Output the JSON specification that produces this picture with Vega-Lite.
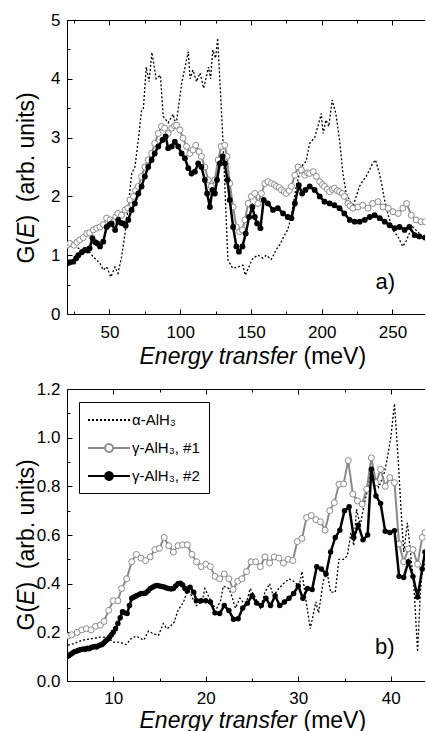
{
"$schema": "https://vega.github.io/schema/vega-lite/v6.json",
"padding": {"left": 15, "top": 11, "right": 0, "bottom": 0},
"spacing": 12,
"resolve": {"scale": {"color": "independent"}, "legend": {"color": "independent"}},
"config": {
  "view": {"stroke": null},
  "font": "Liberation Sans",
  "axis": {"grid": false, "domainColor": "black", "tickColor": "black", "labelColor": "black", "titleColor": "black", "labelFont": "Liberation Sans", "titleFont": "Liberation Sans", "labelFontSize": 17, "titleFontSize": 23, "titleFontWeight": "normal", "tickWidth": 1, "domainWidth": 1, "labelFlush": false, "labelOverlap": false}
},
"datasets": {
"top": [
{"E":20,"G":1.22,"s":"α-AlH₃"},{"E":24,"G":1.18,"s":"α-AlH₃"},{"E":28,"G":1.12,"s":"α-AlH₃"},{"E":32,"G":1.08,"s":"α-AlH₃"},{"E":36,"G":1.05,"s":"α-AlH₃"},{"E":38.6,"G":0.97,"s":"α-AlH₃"},{"E":41,"G":0.92,"s":"α-AlH₃"},{"E":43.3,"G":0.86,"s":"α-AlH₃"},{"E":45.6,"G":0.75,"s":"α-AlH₃"},{"E":48,"G":0.8,"s":"α-AlH₃"},{"E":51,"G":0.63,"s":"α-AlH₃"},{"E":53.9,"G":0.8,"s":"α-AlH₃"},{"E":56,"G":0.69,"s":"α-AlH₃"},{"E":58.6,"G":0.97,"s":"α-AlH₃"},{"E":61,"G":1.37,"s":"α-AlH₃"},{"E":63.3,"G":1.82,"s":"α-AlH₃"},{"E":65.7,"G":2.39,"s":"α-AlH₃"},{"E":68,"G":2.5,"s":"α-AlH₃"},{"E":70.4,"G":2.96,"s":"α-AlH₃"},{"E":72.7,"G":3.47,"s":"α-AlH₃"},{"E":74,"G":3.5,"s":"α-AlH₃"},{"E":76,"G":4.2,"s":"α-AlH₃"},{"E":78,"G":3.95,"s":"α-AlH₃"},{"E":80,"G":4.45,"s":"α-AlH₃"},{"E":83,"G":4.0,"s":"α-AlH₃"},{"E":86,"G":4.06,"s":"α-AlH₃"},{"E":88,"G":3.36,"s":"α-AlH₃"},{"E":91.5,"G":3.25,"s":"α-AlH₃"},{"E":95,"G":3.4,"s":"α-AlH₃"},{"E":97,"G":3.2,"s":"α-AlH₃"},{"E":101,"G":3.92,"s":"α-AlH₃"},{"E":105.7,"G":4.46,"s":"α-AlH₃"},{"E":107,"G":4.0,"s":"α-AlH₃"},{"E":109,"G":4.15,"s":"α-AlH₃"},{"E":111.5,"G":3.95,"s":"α-AlH₃"},{"E":114,"G":4.1,"s":"α-AlH₃"},{"E":116.6,"G":3.84,"s":"α-AlH₃"},{"E":120,"G":4.2,"s":"α-AlH₃"},{"E":121.5,"G":4.0,"s":"α-AlH₃"},{"E":123,"G":4.49,"s":"α-AlH₃"},{"E":125,"G":4.35,"s":"α-AlH₃"},{"E":126.5,"G":4.69,"s":"α-AlH₃"},{"E":130.2,"G":2.96,"s":"α-AlH₃"},{"E":133.7,"G":0.92,"s":"α-AlH₃"},{"E":137,"G":0.78,"s":"α-AlH₃"},{"E":140.8,"G":0.8,"s":"α-AlH₃"},{"E":144.3,"G":0.83,"s":"α-AlH₃"},{"E":146,"G":0.66,"s":"α-AlH₃"},{"E":149,"G":0.83,"s":"α-AlH₃"},{"E":151.4,"G":0.95,"s":"α-AlH₃"},{"E":155,"G":1.0,"s":"α-AlH₃"},{"E":158.4,"G":0.95,"s":"α-AlH₃"},{"E":160.8,"G":1.0,"s":"α-AlH₃"},{"E":164.4,"G":0.93,"s":"α-AlH₃"},{"E":168,"G":1.1,"s":"α-AlH₃"},{"E":170.2,"G":1.17,"s":"α-AlH₃"},{"E":173.7,"G":1.34,"s":"α-AlH₃"},{"E":176,"G":1.43,"s":"α-AlH₃"},{"E":178.4,"G":1.65,"s":"α-AlH₃"},{"E":182,"G":2.17,"s":"α-AlH₃"},{"E":185.5,"G":2.5,"s":"α-AlH₃"},{"E":189,"G":2.6,"s":"α-AlH₃"},{"E":191.4,"G":2.9,"s":"α-AlH₃"},{"E":195,"G":3.0,"s":"α-AlH₃"},{"E":197.3,"G":3.19,"s":"α-AlH₃"},{"E":199.7,"G":3.41,"s":"α-AlH₃"},{"E":201,"G":3.07,"s":"α-AlH₃"},{"E":203,"G":3.3,"s":"α-AlH₃"},{"E":205,"G":3.19,"s":"α-AlH₃"},{"E":207.4,"G":3.64,"s":"α-AlH₃"},{"E":210,"G":3.41,"s":"α-AlH₃"},{"E":212.6,"G":2.96,"s":"α-AlH₃"},{"E":215,"G":2.39,"s":"α-AlH₃"},{"E":217.3,"G":2.05,"s":"α-AlH₃"},{"E":219.7,"G":1.94,"s":"α-AlH₃"},{"E":222,"G":1.82,"s":"α-AlH₃"},{"E":224.4,"G":2.0,"s":"α-AlH₃"},{"E":226.7,"G":2.17,"s":"α-AlH₃"},{"E":229,"G":2.26,"s":"α-AlH₃"},{"E":231.4,"G":2.34,"s":"α-AlH₃"},{"E":233.7,"G":2.45,"s":"α-AlH₃"},{"E":236,"G":2.56,"s":"α-AlH₃"},{"E":238,"G":2.62,"s":"α-AlH₃"},{"E":240.8,"G":2.39,"s":"α-AlH₃"},{"E":242.7,"G":2.17,"s":"α-AlH₃"},{"E":244.4,"G":1.94,"s":"α-AlH₃"},{"E":246.7,"G":1.71,"s":"α-AlH₃"},{"E":250.2,"G":1.43,"s":"α-AlH₃"},{"E":253.8,"G":1.32,"s":"α-AlH₃"},{"E":257.3,"G":1.15,"s":"α-AlH₃"},{"E":259.7,"G":1.24,"s":"α-AlH₃"},{"E":262,"G":1.37,"s":"α-AlH₃"},{"E":264.4,"G":1.48,"s":"α-AlH₃"},{"E":269,"G":1.37,"s":"α-AlH₃"},{"E":273,"G":1.26,"s":"α-AlH₃"},
{"E":20,"G":1.17,"s":"γ-AlH₃, #1"},{"E":22,"G":1.2,"s":"γ-AlH₃, #1"},{"E":25,"G":1.17,"s":"γ-AlH₃, #1"},{"E":27,"G":1.22,"s":"γ-AlH₃, #1"},{"E":29,"G":1.26,"s":"γ-AlH₃, #1"},{"E":31.5,"G":1.3,"s":"γ-AlH₃, #1"},{"E":34,"G":1.37,"s":"γ-AlH₃, #1"},{"E":36,"G":1.38,"s":"γ-AlH₃, #1"},{"E":38.6,"G":1.43,"s":"γ-AlH₃, #1"},{"E":41,"G":1.46,"s":"γ-AlH₃, #1"},{"E":43.3,"G":1.48,"s":"γ-AlH₃, #1"},{"E":45.6,"G":1.52,"s":"γ-AlH₃, #1"},{"E":48,"G":1.63,"s":"γ-AlH₃, #1"},{"E":50.5,"G":1.6,"s":"γ-AlH₃, #1"},{"E":52.7,"G":1.57,"s":"γ-AlH₃, #1"},{"E":54.5,"G":1.65,"s":"γ-AlH₃, #1"},{"E":56,"G":1.71,"s":"γ-AlH₃, #1"},{"E":58.5,"G":1.68,"s":"γ-AlH₃, #1"},{"E":61,"G":1.77,"s":"γ-AlH₃, #1"},{"E":63,"G":1.8,"s":"γ-AlH₃, #1"},{"E":64.5,"G":1.94,"s":"γ-AlH₃, #1"},{"E":67,"G":2.0,"s":"γ-AlH₃, #1"},{"E":68.5,"G":2.1,"s":"γ-AlH₃, #1"},{"E":70.4,"G":2.17,"s":"γ-AlH₃, #1"},{"E":72.7,"G":2.34,"s":"γ-AlH₃, #1"},{"E":75,"G":2.5,"s":"γ-AlH₃, #1"},{"E":77.4,"G":2.62,"s":"γ-AlH₃, #1"},{"E":79.8,"G":2.73,"s":"γ-AlH₃, #1"},{"E":82,"G":2.9,"s":"γ-AlH₃, #1"},{"E":84.5,"G":3.07,"s":"γ-AlH₃, #1"},{"E":86.8,"G":3.19,"s":"γ-AlH₃, #1"},{"E":89,"G":3.16,"s":"γ-AlH₃, #1"},{"E":91.5,"G":3.07,"s":"γ-AlH₃, #1"},{"E":94,"G":3.16,"s":"γ-AlH₃, #1"},{"E":96,"G":3.2,"s":"γ-AlH₃, #1"},{"E":97.4,"G":3.21,"s":"γ-AlH₃, #1"},{"E":99.8,"G":3.13,"s":"γ-AlH₃, #1"},{"E":102,"G":2.99,"s":"γ-AlH₃, #1"},{"E":104.5,"G":2.85,"s":"γ-AlH₃, #1"},{"E":106.8,"G":2.73,"s":"γ-AlH₃, #1"},{"E":109,"G":2.79,"s":"γ-AlH₃, #1"},{"E":111,"G":2.87,"s":"γ-AlH₃, #1"},{"E":113.4,"G":2.76,"s":"γ-AlH₃, #1"},{"E":115,"G":2.68,"s":"γ-AlH₃, #1"},{"E":117.4,"G":2.5,"s":"γ-AlH₃, #1"},{"E":119.8,"G":2.28,"s":"γ-AlH₃, #1"},{"E":122,"G":2.17,"s":"γ-AlH₃, #1"},{"E":124.5,"G":2.28,"s":"γ-AlH₃, #1"},{"E":126.8,"G":2.62,"s":"γ-AlH₃, #1"},{"E":129,"G":2.85,"s":"γ-AlH₃, #1"},{"E":131.5,"G":2.87,"s":"γ-AlH₃, #1"},{"E":133,"G":2.68,"s":"γ-AlH₃, #1"},{"E":135,"G":2.22,"s":"γ-AlH₃, #1"},{"E":137.4,"G":1.82,"s":"γ-AlH₃, #1"},{"E":139.7,"G":1.48,"s":"γ-AlH₃, #1"},{"E":142,"G":1.4,"s":"γ-AlH₃, #1"},{"E":144,"G":1.43,"s":"γ-AlH₃, #1"},{"E":145.7,"G":1.6,"s":"γ-AlH₃, #1"},{"E":148,"G":1.88,"s":"γ-AlH₃, #1"},{"E":150.3,"G":2.0,"s":"γ-AlH₃, #1"},{"E":152.7,"G":2.05,"s":"γ-AlH₃, #1"},{"E":155,"G":1.88,"s":"γ-AlH₃, #1"},{"E":157.4,"G":2.05,"s":"γ-AlH₃, #1"},{"E":159.8,"G":2.22,"s":"γ-AlH₃, #1"},{"E":162,"G":2.25,"s":"γ-AlH₃, #1"},{"E":164.5,"G":2.22,"s":"γ-AlH₃, #1"},{"E":166.5,"G":2.2,"s":"γ-AlH₃, #1"},{"E":168,"G":2.17,"s":"γ-AlH₃, #1"},{"E":170,"G":2.15,"s":"γ-AlH₃, #1"},{"E":171.5,"G":2.11,"s":"γ-AlH₃, #1"},{"E":173.5,"G":2.08,"s":"γ-AlH₃, #1"},{"E":175,"G":2.05,"s":"γ-AlH₃, #1"},{"E":177,"G":2.1,"s":"γ-AlH₃, #1"},{"E":178.6,"G":2.17,"s":"γ-AlH₃, #1"},{"E":181,"G":2.36,"s":"γ-AlH₃, #1"},{"E":183.3,"G":2.5,"s":"γ-AlH₃, #1"},{"E":185.6,"G":2.45,"s":"γ-AlH₃, #1"},{"E":188,"G":2.36,"s":"γ-AlH₃, #1"},{"E":190,"G":2.4,"s":"γ-AlH₃, #1"},{"E":191.5,"G":2.39,"s":"γ-AlH₃, #1"},{"E":194,"G":2.42,"s":"γ-AlH₃, #1"},{"E":196.2,"G":2.34,"s":"γ-AlH₃, #1"},{"E":198.6,"G":2.25,"s":"γ-AlH₃, #1"},{"E":200.5,"G":2.2,"s":"γ-AlH₃, #1"},{"E":202,"G":2.17,"s":"γ-AlH₃, #1"},{"E":204,"G":2.12,"s":"γ-AlH₃, #1"},{"E":205.6,"G":2.08,"s":"γ-AlH₃, #1"},{"E":207.5,"G":2.12,"s":"γ-AlH₃, #1"},{"E":209,"G":2.14,"s":"γ-AlH₃, #1"},{"E":211,"G":2.1,"s":"γ-AlH₃, #1"},{"E":212.6,"G":2.08,"s":"γ-AlH₃, #1"},{"E":214.5,"G":2.05,"s":"γ-AlH₃, #1"},{"E":216,"G":2.0,"s":"γ-AlH₃, #1"},{"E":218.5,"G":1.88,"s":"γ-AlH₃, #1"},{"E":220,"G":1.84,"s":"γ-AlH₃, #1"},{"E":222,"G":1.8,"s":"γ-AlH₃, #1"},{"E":225.6,"G":1.82,"s":"γ-AlH₃, #1"},{"E":229,"G":1.85,"s":"γ-AlH₃, #1"},{"E":232.7,"G":1.8,"s":"γ-AlH₃, #1"},{"E":236,"G":1.88,"s":"γ-AlH₃, #1"},{"E":239.8,"G":1.91,"s":"γ-AlH₃, #1"},{"E":243.3,"G":1.82,"s":"γ-AlH₃, #1"},{"E":247,"G":1.8,"s":"γ-AlH₃, #1"},{"E":250.4,"G":1.74,"s":"γ-AlH₃, #1"},{"E":254,"G":1.71,"s":"γ-AlH₃, #1"},{"E":257.4,"G":1.8,"s":"γ-AlH₃, #1"},{"E":260,"G":1.88,"s":"γ-AlH₃, #1"},{"E":263.3,"G":1.68,"s":"γ-AlH₃, #1"},{"E":266.8,"G":1.6,"s":"γ-AlH₃, #1"},{"E":270.3,"G":1.57,"s":"γ-AlH₃, #1"},{"E":273,"G":1.57,"s":"γ-AlH₃, #1"},
{"E":20,"G":0.86,"s":"γ-AlH₃, #2"},{"E":22,"G":0.88,"s":"γ-AlH₃, #2"},{"E":24.5,"G":0.89,"s":"γ-AlH₃, #2"},{"E":26.5,"G":0.95,"s":"γ-AlH₃, #2"},{"E":28,"G":1.0,"s":"γ-AlH₃, #2"},{"E":30.5,"G":1.05,"s":"γ-AlH₃, #2"},{"E":32.7,"G":1.09,"s":"γ-AlH₃, #2"},{"E":34.5,"G":1.08,"s":"γ-AlH₃, #2"},{"E":36,"G":1.12,"s":"γ-AlH₃, #2"},{"E":38,"G":1.29,"s":"γ-AlH₃, #2"},{"E":40,"G":1.22,"s":"γ-AlH₃, #2"},{"E":41.5,"G":1.2,"s":"γ-AlH₃, #2"},{"E":43.3,"G":1.15,"s":"γ-AlH₃, #2"},{"E":45.6,"G":1.23,"s":"γ-AlH₃, #2"},{"E":48,"G":1.48,"s":"γ-AlH₃, #2"},{"E":50,"G":1.52,"s":"γ-AlH₃, #2"},{"E":51.5,"G":1.54,"s":"γ-AlH₃, #2"},{"E":54,"G":1.43,"s":"γ-AlH₃, #2"},{"E":56.2,"G":1.6,"s":"γ-AlH₃, #2"},{"E":58,"G":1.55,"s":"γ-AlH₃, #2"},{"E":59.8,"G":1.54,"s":"γ-AlH₃, #2"},{"E":61.5,"G":1.5,"s":"γ-AlH₃, #2"},{"E":63.3,"G":1.6,"s":"γ-AlH₃, #2"},{"E":65.6,"G":1.77,"s":"γ-AlH₃, #2"},{"E":68,"G":1.88,"s":"γ-AlH₃, #2"},{"E":70.4,"G":2.05,"s":"γ-AlH₃, #2"},{"E":72.7,"G":2.17,"s":"γ-AlH₃, #2"},{"E":75,"G":2.34,"s":"γ-AlH₃, #2"},{"E":77.4,"G":2.5,"s":"γ-AlH₃, #2"},{"E":79.8,"G":2.62,"s":"γ-AlH₃, #2"},{"E":82,"G":2.73,"s":"γ-AlH₃, #2"},{"E":84.5,"G":2.85,"s":"γ-AlH₃, #2"},{"E":87.5,"G":2.96,"s":"γ-AlH₃, #2"},{"E":89.7,"G":3.02,"s":"γ-AlH₃, #2"},{"E":91.5,"G":2.82,"s":"γ-AlH₃, #2"},{"E":94,"G":2.85,"s":"γ-AlH₃, #2"},{"E":96.2,"G":2.93,"s":"γ-AlH₃, #2"},{"E":98.6,"G":2.85,"s":"γ-AlH₃, #2"},{"E":101,"G":2.73,"s":"γ-AlH₃, #2"},{"E":103.3,"G":2.65,"s":"γ-AlH₃, #2"},{"E":105.7,"G":2.48,"s":"γ-AlH₃, #2"},{"E":108,"G":2.39,"s":"γ-AlH₃, #2"},{"E":110.4,"G":2.42,"s":"γ-AlH₃, #2"},{"E":112.7,"G":2.56,"s":"γ-AlH₃, #2"},{"E":115,"G":2.5,"s":"γ-AlH₃, #2"},{"E":117.4,"G":2.28,"s":"γ-AlH₃, #2"},{"E":119,"G":2.05,"s":"γ-AlH₃, #2"},{"E":121,"G":1.82,"s":"γ-AlH₃, #2"},{"E":122.8,"G":2.11,"s":"γ-AlH₃, #2"},{"E":124.5,"G":2.05,"s":"γ-AlH₃, #2"},{"E":126,"G":2.28,"s":"γ-AlH₃, #2"},{"E":128,"G":2.56,"s":"γ-AlH₃, #2"},{"E":130,"G":2.68,"s":"γ-AlH₃, #2"},{"E":131.5,"G":2.56,"s":"γ-AlH₃, #2"},{"E":133.4,"G":2.28,"s":"γ-AlH₃, #2"},{"E":135,"G":1.94,"s":"γ-AlH₃, #2"},{"E":137.4,"G":1.48,"s":"γ-AlH₃, #2"},{"E":139.7,"G":1.15,"s":"γ-AlH₃, #2"},{"E":141.5,"G":1.06,"s":"γ-AlH₃, #2"},{"E":144,"G":1.15,"s":"γ-AlH₃, #2"},{"E":146.3,"G":1.37,"s":"γ-AlH₃, #2"},{"E":148.7,"G":1.65,"s":"γ-AlH₃, #2"},{"E":151,"G":1.82,"s":"γ-AlH₃, #2"},{"E":152.7,"G":1.65,"s":"γ-AlH₃, #2"},{"E":154.3,"G":1.54,"s":"γ-AlH₃, #2"},{"E":156.7,"G":1.46,"s":"γ-AlH₃, #2"},{"E":159,"G":1.94,"s":"γ-AlH₃, #2"},{"E":162,"G":1.88,"s":"γ-AlH₃, #2"},{"E":165.6,"G":1.77,"s":"γ-AlH₃, #2"},{"E":169,"G":1.8,"s":"γ-AlH₃, #2"},{"E":172.7,"G":1.71,"s":"γ-AlH₃, #2"},{"E":176,"G":1.65,"s":"γ-AlH₃, #2"},{"E":178.6,"G":1.63,"s":"γ-AlH₃, #2"},{"E":181,"G":1.88,"s":"γ-AlH₃, #2"},{"E":183.8,"G":2.19,"s":"γ-AlH₃, #2"},{"E":186.2,"G":2.05,"s":"γ-AlH₃, #2"},{"E":188.5,"G":2.11,"s":"γ-AlH₃, #2"},{"E":191.5,"G":2.17,"s":"γ-AlH₃, #2"},{"E":195,"G":2.11,"s":"γ-AlH₃, #2"},{"E":198.6,"G":2.0,"s":"γ-AlH₃, #2"},{"E":202,"G":1.91,"s":"γ-AlH₃, #2"},{"E":205.6,"G":1.88,"s":"γ-AlH₃, #2"},{"E":209,"G":1.85,"s":"γ-AlH₃, #2"},{"E":212.6,"G":1.8,"s":"γ-AlH₃, #2"},{"E":216,"G":1.71,"s":"γ-AlH₃, #2"},{"E":219.8,"G":1.6,"s":"γ-AlH₃, #2"},{"E":223.3,"G":1.57,"s":"γ-AlH₃, #2"},{"E":226.8,"G":1.57,"s":"γ-AlH₃, #2"},{"E":230.4,"G":1.6,"s":"γ-AlH₃, #2"},{"E":234,"G":1.65,"s":"γ-AlH₃, #2"},{"E":237.4,"G":1.68,"s":"γ-AlH₃, #2"},{"E":241,"G":1.63,"s":"γ-AlH₃, #2"},{"E":244.5,"G":1.57,"s":"γ-AlH₃, #2"},{"E":248,"G":1.51,"s":"γ-AlH₃, #2"},{"E":251.6,"G":1.46,"s":"γ-AlH₃, #2"},{"E":255,"G":1.48,"s":"γ-AlH₃, #2"},{"E":258.6,"G":1.43,"s":"γ-AlH₃, #2"},{"E":262,"G":1.48,"s":"γ-AlH₃, #2"},{"E":265.7,"G":1.34,"s":"γ-AlH₃, #2"},{"E":269,"G":1.32,"s":"γ-AlH₃, #2"},{"E":273,"G":1.3,"s":"γ-AlH₃, #2"}
],
"bottom": [
{"E":5.1,"G":0.147,"s":"α-AlH₃"},{"E":5.7,"G":0.154,"s":"α-AlH₃"},{"E":6.7,"G":0.168,"s":"α-AlH₃"},{"E":7.8,"G":0.175,"s":"α-AlH₃"},{"E":8.6,"G":0.18,"s":"α-AlH₃"},{"E":9.3,"G":0.18,"s":"α-AlH₃"},{"E":10,"G":0.16,"s":"α-AlH₃"},{"E":10.7,"G":0.16,"s":"α-AlH₃"},{"E":11.4,"G":0.15,"s":"α-AlH₃"},{"E":12,"G":0.177,"s":"α-AlH₃"},{"E":12.5,"G":0.184,"s":"α-AlH₃"},{"E":13.3,"G":0.168,"s":"α-AlH₃"},{"E":13.8,"G":0.205,"s":"α-AlH₃"},{"E":14.3,"G":0.195,"s":"α-AlH₃"},{"E":14.9,"G":0.188,"s":"α-AlH₃"},{"E":15.4,"G":0.236,"s":"α-AlH₃"},{"E":15.8,"G":0.215,"s":"α-AlH₃"},{"E":16.1,"G":0.222,"s":"α-AlH₃"},{"E":16.6,"G":0.243,"s":"α-AlH₃"},{"E":17,"G":0.29,"s":"α-AlH₃"},{"E":17.6,"G":0.325,"s":"α-AlH₃"},{"E":18.1,"G":0.38,"s":"α-AlH₃"},{"E":18.5,"G":0.345,"s":"α-AlH₃"},{"E":19,"G":0.31,"s":"α-AlH₃"},{"E":19.6,"G":0.325,"s":"α-AlH₃"},{"E":19.9,"G":0.38,"s":"α-AlH₃"},{"E":20.4,"G":0.34,"s":"α-AlH₃"},{"E":20.8,"G":0.31,"s":"α-AlH₃"},{"E":21.2,"G":0.3,"s":"α-AlH₃"},{"E":21.6,"G":0.33,"s":"α-AlH₃"},{"E":21.9,"G":0.39,"s":"α-AlH₃"},{"E":22.5,"G":0.38,"s":"α-AlH₃"},{"E":22.8,"G":0.35,"s":"α-AlH₃"},{"E":23.2,"G":0.3,"s":"α-AlH₃"},{"E":23.7,"G":0.34,"s":"α-AlH₃"},{"E":24.3,"G":0.31,"s":"α-AlH₃"},{"E":24.8,"G":0.38,"s":"α-AlH₃"},{"E":25.4,"G":0.34,"s":"α-AlH₃"},{"E":25.9,"G":0.3,"s":"α-AlH₃"},{"E":26.4,"G":0.365,"s":"α-AlH₃"},{"E":26.9,"G":0.4,"s":"α-AlH₃"},{"E":27.3,"G":0.35,"s":"α-AlH₃"},{"E":27.9,"G":0.38,"s":"α-AlH₃"},{"E":28.4,"G":0.4,"s":"α-AlH₃"},{"E":29,"G":0.42,"s":"α-AlH₃"},{"E":29.5,"G":0.41,"s":"α-AlH₃"},{"E":30.1,"G":0.39,"s":"α-AlH₃"},{"E":30.4,"G":0.45,"s":"α-AlH₃"},{"E":30.8,"G":0.34,"s":"α-AlH₃"},{"E":31.3,"G":0.215,"s":"α-AlH₃"},{"E":31.9,"G":0.325,"s":"α-AlH₃"},{"E":32.2,"G":0.28,"s":"α-AlH₃"},{"E":32.7,"G":0.41,"s":"α-AlH₃"},{"E":33.1,"G":0.45,"s":"α-AlH₃"},{"E":33.5,"G":0.365,"s":"α-AlH₃"},{"E":34,"G":0.365,"s":"α-AlH₃"},{"E":34.4,"G":0.5,"s":"α-AlH₃"},{"E":34.9,"G":0.5,"s":"α-AlH₃"},{"E":35.3,"G":0.515,"s":"α-AlH₃"},{"E":35.7,"G":0.61,"s":"α-AlH₃"},{"E":36,"G":0.556,"s":"α-AlH₃"},{"E":36.3,"G":0.706,"s":"α-AlH₃"},{"E":36.7,"G":0.64,"s":"α-AlH₃"},{"E":37.1,"G":0.72,"s":"α-AlH₃"},{"E":37.5,"G":0.79,"s":"α-AlH₃"},{"E":37.8,"G":0.87,"s":"α-AlH₃"},{"E":38.2,"G":0.83,"s":"α-AlH₃"},{"E":38.7,"G":0.795,"s":"α-AlH₃"},{"E":39.3,"G":0.856,"s":"α-AlH₃"},{"E":39.6,"G":0.91,"s":"α-AlH₃"},{"E":40,"G":1.0,"s":"α-AlH₃"},{"E":40.4,"G":1.14,"s":"α-AlH₃"},{"E":40.8,"G":0.91,"s":"α-AlH₃"},{"E":41.1,"G":0.71,"s":"α-AlH₃"},{"E":41.4,"G":0.53,"s":"α-AlH₃"},{"E":41.8,"G":0.65,"s":"α-AlH₃"},{"E":42.1,"G":0.54,"s":"α-AlH₃"},{"E":42.5,"G":0.39,"s":"α-AlH₃"},{"E":42.9,"G":0.12,"s":"α-AlH₃"},{"E":43.2,"G":0.365,"s":"α-AlH₃"},{"E":43.5,"G":0.5,"s":"α-AlH₃"},{"E":43.7,"G":0.47,"s":"α-AlH₃"},
{"E":5.1,"G":0.185,"s":"γ-AlH₃, #1"},{"E":5.5,"G":0.19,"s":"γ-AlH₃, #1"},{"E":6.1,"G":0.2,"s":"γ-AlH₃, #1"},{"E":6.6,"G":0.21,"s":"γ-AlH₃, #1"},{"E":7.1,"G":0.215,"s":"γ-AlH₃, #1"},{"E":7.6,"G":0.21,"s":"γ-AlH₃, #1"},{"E":8.1,"G":0.225,"s":"γ-AlH₃, #1"},{"E":8.6,"G":0.23,"s":"γ-AlH₃, #1"},{"E":9.0,"G":0.245,"s":"γ-AlH₃, #1"},{"E":9.5,"G":0.29,"s":"γ-AlH₃, #1"},{"E":10.0,"G":0.33,"s":"γ-AlH₃, #1"},{"E":10.5,"G":0.33,"s":"γ-AlH₃, #1"},{"E":10.9,"G":0.38,"s":"γ-AlH₃, #1"},{"E":11.45,"G":0.42,"s":"γ-AlH₃, #1"},{"E":12.0,"G":0.49,"s":"γ-AlH₃, #1"},{"E":12.5,"G":0.52,"s":"γ-AlH₃, #1"},{"E":13.0,"G":0.505,"s":"γ-AlH₃, #1"},{"E":13.5,"G":0.495,"s":"γ-AlH₃, #1"},{"E":14.0,"G":0.51,"s":"γ-AlH₃, #1"},{"E":14.5,"G":0.54,"s":"γ-AlH₃, #1"},{"E":15.0,"G":0.545,"s":"γ-AlH₃, #1"},{"E":15.5,"G":0.59,"s":"γ-AlH₃, #1"},{"E":16.0,"G":0.556,"s":"γ-AlH₃, #1"},{"E":16.5,"G":0.53,"s":"γ-AlH₃, #1"},{"E":17.0,"G":0.556,"s":"γ-AlH₃, #1"},{"E":17.5,"G":0.56,"s":"γ-AlH₃, #1"},{"E":18.0,"G":0.56,"s":"γ-AlH₃, #1"},{"E":18.5,"G":0.52,"s":"γ-AlH₃, #1"},{"E":19.0,"G":0.49,"s":"γ-AlH₃, #1"},{"E":19.5,"G":0.47,"s":"γ-AlH₃, #1"},{"E":20.0,"G":0.48,"s":"γ-AlH₃, #1"},{"E":20.5,"G":0.47,"s":"γ-AlH₃, #1"},{"E":21.0,"G":0.43,"s":"γ-AlH₃, #1"},{"E":21.5,"G":0.42,"s":"γ-AlH₃, #1"},{"E":22.0,"G":0.44,"s":"γ-AlH₃, #1"},{"E":22.5,"G":0.42,"s":"γ-AlH₃, #1"},{"E":22.95,"G":0.376,"s":"γ-AlH₃, #1"},{"E":23.45,"G":0.41,"s":"γ-AlH₃, #1"},{"E":23.9,"G":0.42,"s":"γ-AlH₃, #1"},{"E":24.4,"G":0.45,"s":"γ-AlH₃, #1"},{"E":24.9,"G":0.49,"s":"γ-AlH₃, #1"},{"E":25.4,"G":0.49,"s":"γ-AlH₃, #1"},{"E":25.9,"G":0.47,"s":"γ-AlH₃, #1"},{"E":26.4,"G":0.51,"s":"γ-AlH₃, #1"},{"E":26.9,"G":0.485,"s":"γ-AlH₃, #1"},{"E":27.4,"G":0.51,"s":"γ-AlH₃, #1"},{"E":27.9,"G":0.505,"s":"γ-AlH₃, #1"},{"E":28.4,"G":0.485,"s":"γ-AlH₃, #1"},{"E":28.9,"G":0.5,"s":"γ-AlH₃, #1"},{"E":29.4,"G":0.495,"s":"γ-AlH₃, #1"},{"E":29.9,"G":0.573,"s":"γ-AlH₃, #1"},{"E":30.4,"G":0.586,"s":"γ-AlH₃, #1"},{"E":30.9,"G":0.672,"s":"γ-AlH₃, #1"},{"E":31.4,"G":0.68,"s":"γ-AlH₃, #1"},{"E":31.9,"G":0.663,"s":"γ-AlH₃, #1"},{"E":32.4,"G":0.654,"s":"γ-AlH₃, #1"},{"E":32.9,"G":0.62,"s":"γ-AlH₃, #1"},{"E":33.4,"G":0.7,"s":"γ-AlH₃, #1"},{"E":33.9,"G":0.733,"s":"γ-AlH₃, #1"},{"E":34.4,"G":0.808,"s":"γ-AlH₃, #1"},{"E":34.9,"G":0.81,"s":"γ-AlH₃, #1"},{"E":35.4,"G":0.906,"s":"γ-AlH₃, #1"},{"E":35.9,"G":0.768,"s":"γ-AlH₃, #1"},{"E":36.4,"G":0.74,"s":"γ-AlH₃, #1"},{"E":36.9,"G":0.727,"s":"γ-AlH₃, #1"},{"E":37.4,"G":0.788,"s":"γ-AlH₃, #1"},{"E":37.9,"G":0.917,"s":"γ-AlH₃, #1"},{"E":38.4,"G":0.815,"s":"γ-AlH₃, #1"},{"E":38.9,"G":0.87,"s":"γ-AlH₃, #1"},{"E":39.4,"G":0.8,"s":"γ-AlH₃, #1"},{"E":39.9,"G":0.836,"s":"γ-AlH₃, #1"},{"E":40.4,"G":0.815,"s":"γ-AlH₃, #1"},{"E":40.9,"G":0.563,"s":"γ-AlH₃, #1"},{"E":41.4,"G":0.49,"s":"γ-AlH₃, #1"},{"E":41.9,"G":0.543,"s":"γ-AlH₃, #1"},{"E":42.4,"G":0.54,"s":"γ-AlH₃, #1"},{"E":42.9,"G":0.48,"s":"γ-AlH₃, #1"},{"E":43.4,"G":0.59,"s":"γ-AlH₃, #1"},{"E":43.7,"G":0.61,"s":"γ-AlH₃, #1"},
{"E":5.0,"G":0.1,"s":"γ-AlH₃, #2"},{"E":5.2,"G":0.105,"s":"γ-AlH₃, #2"},{"E":5.4,"G":0.11,"s":"γ-AlH₃, #2"},{"E":5.6,"G":0.115,"s":"γ-AlH₃, #2"},{"E":5.8,"G":0.12,"s":"γ-AlH₃, #2"},{"E":6.0,"G":0.122,"s":"γ-AlH₃, #2"},{"E":6.2,"G":0.125,"s":"γ-AlH₃, #2"},{"E":6.4,"G":0.128,"s":"γ-AlH₃, #2"},{"E":6.6,"G":0.13,"s":"γ-AlH₃, #2"},{"E":6.8,"G":0.132,"s":"γ-AlH₃, #2"},{"E":7.0,"G":0.13,"s":"γ-AlH₃, #2"},{"E":7.2,"G":0.135,"s":"γ-AlH₃, #2"},{"E":7.4,"G":0.133,"s":"γ-AlH₃, #2"},{"E":7.6,"G":0.138,"s":"γ-AlH₃, #2"},{"E":7.8,"G":0.14,"s":"γ-AlH₃, #2"},{"E":8.0,"G":0.142,"s":"γ-AlH₃, #2"},{"E":8.2,"G":0.14,"s":"γ-AlH₃, #2"},{"E":8.4,"G":0.145,"s":"γ-AlH₃, #2"},{"E":8.6,"G":0.148,"s":"γ-AlH₃, #2"},{"E":8.8,"G":0.15,"s":"γ-AlH₃, #2"},{"E":9.0,"G":0.157,"s":"γ-AlH₃, #2"},{"E":9.2,"G":0.165,"s":"γ-AlH₃, #2"},{"E":9.4,"G":0.172,"s":"γ-AlH₃, #2"},{"E":9.6,"G":0.18,"s":"γ-AlH₃, #2"},{"E":9.8,"G":0.19,"s":"γ-AlH₃, #2"},{"E":10.0,"G":0.2,"s":"γ-AlH₃, #2"},{"E":10.25,"G":0.215,"s":"γ-AlH₃, #2"},{"E":10.5,"G":0.236,"s":"γ-AlH₃, #2"},{"E":10.75,"G":0.26,"s":"γ-AlH₃, #2"},{"E":11.0,"G":0.285,"s":"γ-AlH₃, #2"},{"E":11.25,"G":0.28,"s":"γ-AlH₃, #2"},{"E":11.5,"G":0.277,"s":"γ-AlH₃, #2"},{"E":11.75,"G":0.31,"s":"γ-AlH₃, #2"},{"E":12.0,"G":0.34,"s":"γ-AlH₃, #2"},{"E":12.25,"G":0.345,"s":"γ-AlH₃, #2"},{"E":12.5,"G":0.35,"s":"γ-AlH₃, #2"},{"E":12.75,"G":0.355,"s":"γ-AlH₃, #2"},{"E":13.0,"G":0.36,"s":"γ-AlH₃, #2"},{"E":13.25,"G":0.36,"s":"γ-AlH₃, #2"},{"E":13.5,"G":0.362,"s":"γ-AlH₃, #2"},{"E":13.75,"G":0.37,"s":"γ-AlH₃, #2"},{"E":14.0,"G":0.38,"s":"γ-AlH₃, #2"},{"E":14.25,"G":0.385,"s":"γ-AlH₃, #2"},{"E":14.5,"G":0.39,"s":"γ-AlH₃, #2"},{"E":14.75,"G":0.392,"s":"γ-AlH₃, #2"},{"E":15.0,"G":0.39,"s":"γ-AlH₃, #2"},{"E":15.25,"G":0.388,"s":"γ-AlH₃, #2"},{"E":15.5,"G":0.386,"s":"γ-AlH₃, #2"},{"E":15.75,"G":0.382,"s":"γ-AlH₃, #2"},{"E":16.0,"G":0.38,"s":"γ-AlH₃, #2"},{"E":16.25,"G":0.378,"s":"γ-AlH₃, #2"},{"E":16.5,"G":0.38,"s":"γ-AlH₃, #2"},{"E":16.75,"G":0.39,"s":"γ-AlH₃, #2"},{"E":17.0,"G":0.4,"s":"γ-AlH₃, #2"},{"E":17.25,"G":0.402,"s":"γ-AlH₃, #2"},{"E":17.5,"G":0.395,"s":"γ-AlH₃, #2"},{"E":17.75,"G":0.38,"s":"γ-AlH₃, #2"},{"E":18.0,"G":0.37,"s":"γ-AlH₃, #2"},{"E":18.3,"G":0.385,"s":"γ-AlH₃, #2"},{"E":18.7,"G":0.365,"s":"γ-AlH₃, #2"},{"E":19.0,"G":0.33,"s":"γ-AlH₃, #2"},{"E":19.5,"G":0.33,"s":"γ-AlH₃, #2"},{"E":20.0,"G":0.33,"s":"γ-AlH₃, #2"},{"E":20.5,"G":0.325,"s":"γ-AlH₃, #2"},{"E":21.0,"G":0.28,"s":"γ-AlH₃, #2"},{"E":21.5,"G":0.277,"s":"γ-AlH₃, #2"},{"E":22.0,"G":0.31,"s":"γ-AlH₃, #2"},{"E":22.5,"G":0.29,"s":"γ-AlH₃, #2"},{"E":23.0,"G":0.254,"s":"γ-AlH₃, #2"},{"E":23.5,"G":0.256,"s":"γ-AlH₃, #2"},{"E":24.0,"G":0.3,"s":"γ-AlH₃, #2"},{"E":24.5,"G":0.32,"s":"γ-AlH₃, #2"},{"E":25.0,"G":0.35,"s":"γ-AlH₃, #2"},{"E":25.5,"G":0.32,"s":"γ-AlH₃, #2"},{"E":26.0,"G":0.31,"s":"γ-AlH₃, #2"},{"E":26.5,"G":0.34,"s":"γ-AlH₃, #2"},{"E":27.0,"G":0.31,"s":"γ-AlH₃, #2"},{"E":27.5,"G":0.35,"s":"γ-AlH₃, #2"},{"E":28.0,"G":0.31,"s":"γ-AlH₃, #2"},{"E":28.5,"G":0.325,"s":"γ-AlH₃, #2"},{"E":29.0,"G":0.34,"s":"γ-AlH₃, #2"},{"E":29.5,"G":0.36,"s":"γ-AlH₃, #2"},{"E":30.0,"G":0.39,"s":"γ-AlH₃, #2"},{"E":30.5,"G":0.34,"s":"γ-AlH₃, #2"},{"E":31.0,"G":0.38,"s":"γ-AlH₃, #2"},{"E":31.5,"G":0.376,"s":"γ-AlH₃, #2"},{"E":32.0,"G":0.47,"s":"γ-AlH₃, #2"},{"E":32.5,"G":0.46,"s":"γ-AlH₃, #2"},{"E":33.0,"G":0.44,"s":"γ-AlH₃, #2"},{"E":33.5,"G":0.53,"s":"γ-AlH₃, #2"},{"E":34.0,"G":0.59,"s":"γ-AlH₃, #2"},{"E":34.5,"G":0.62,"s":"γ-AlH₃, #2"},{"E":35.0,"G":0.7,"s":"γ-AlH₃, #2"},{"E":35.5,"G":0.716,"s":"γ-AlH₃, #2"},{"E":36.0,"G":0.59,"s":"γ-AlH₃, #2"},{"E":36.5,"G":0.64,"s":"γ-AlH₃, #2"},{"E":37.0,"G":0.58,"s":"γ-AlH₃, #2"},{"E":37.5,"G":0.6,"s":"γ-AlH₃, #2"},{"E":37.9,"G":0.87,"s":"γ-AlH₃, #2"},{"E":38.4,"G":0.76,"s":"γ-AlH₃, #2"},{"E":38.9,"G":0.73,"s":"γ-AlH₃, #2"},{"E":39.4,"G":0.615,"s":"γ-AlH₃, #2"},{"E":39.9,"G":0.61,"s":"γ-AlH₃, #2"},{"E":40.4,"G":0.618,"s":"γ-AlH₃, #2"},{"E":40.9,"G":0.43,"s":"γ-AlH₃, #2"},{"E":41.4,"G":0.425,"s":"γ-AlH₃, #2"},{"E":41.9,"G":0.49,"s":"γ-AlH₃, #2"},{"E":42.4,"G":0.43,"s":"γ-AlH₃, #2"},{"E":42.9,"G":0.345,"s":"γ-AlH₃, #2"},{"E":43.4,"G":0.46,"s":"γ-AlH₃, #2"},{"E":43.7,"G":0.53,"s":"γ-AlH₃, #2"}
]
},
"vconcat": [
{
  "width": 358, "height": 294,
  "data": {"name": "top"},
  "resolve": {"axis": {"x": "independent", "y": "independent"}},
  "layer": [
    {"transform": [{"filter": "datum.s === 'α-AlH₃'"}],
     "mark": {"type": "line", "color": "black", "strokeDash": [2, 2], "strokeWidth": 1.3, "clip": true},
     "encoding": {
       "x": {"field": "E", "type": "quantitative", "scale": {"domain": [20, 273], "nice": false, "zero": false},
             "axis": {"orient": "bottom", "values": [50, 100, 150, 200, 250], "tickSize": -5, "labelPadding": 15, "domain": true, "title": "Energy transfer", "titleFontStyle": "italic", "titleX": 72, "titleY": 49, "titleAlign": "left", "titleBaseline": "alphabetic", "titleAngle": 0}},
       "y": {"field": "G", "type": "quantitative", "scale": {"domain": [0, 5], "nice": false},
             "axis": {"orient": "left", "values": [0, 1, 2, 3, 4, 5], "tickSize": -5, "labelPadding": 12, "domain": true, "title": "G(", "titleX": -34, "titleY": 243, "titleAngle": -90, "titleAlign": "left", "titleBaseline": "alphabetic"}}
     }},
    {"transform": [{"filter": "datum.s === 'γ-AlH₃, #1'"}],
     "mark": {"type": "line", "color": "#8a8a8a", "strokeWidth": 2, "clip": true},
     "encoding": {
       "x": {"field": "E", "type": "quantitative",
             "axis": {"orient": "bottom", "values": [25, 75, 125, 175, 225], "tickSize": -3, "labels": false, "domain": false, "title": "(meV)", "titleX": 236, "titleY": 49, "titleAlign": "left", "titleBaseline": "alphabetic", "titleAngle": 0}},
       "y": {"field": "G", "type": "quantitative",
             "axis": {"orient": "left", "values": [0.5, 1.5, 2.5, 3.5, 4.5], "tickSize": -3, "labels": false, "domain": false, "title": "E", "titleFontStyle": "italic", "titleX": -34, "titleY": 217.4, "titleAngle": -90, "titleAlign": "left", "titleBaseline": "alphabetic"}}
     }},
    {"transform": [{"filter": "datum.s === 'γ-AlH₃, #1'"}],
     "mark": {"type": "point", "shape": "circle", "filled": true, "fill": "white", "stroke": "#8a8a8a", "strokeWidth": 1, "size": 36, "opacity": 1, "clip": true},
     "encoding": {
       "x": {"field": "E", "type": "quantitative",
             "axis": {"orient": "top", "values": [50, 100, 150, 200, 250], "tickSize": -5, "labels": false, "domain": true, "title": null}},
       "y": {"field": "G", "type": "quantitative",
             "axis": {"orient": "left", "ticks": false, "labels": false, "domain": false, "title": ")\u00a0\u00a0(arb. units)", "titleX": -34, "titleY": 202.1, "titleAngle": -90, "titleAlign": "left", "titleBaseline": "alphabetic"}}
     }},
    {"transform": [{"filter": "datum.s === 'γ-AlH₃, #2'"}],
     "mark": {"type": "line", "color": "black", "strokeWidth": 2.5, "clip": true},
     "encoding": {
       "x": {"field": "E", "type": "quantitative",
             "axis": {"orient": "top", "values": [25, 75, 125, 175, 225], "tickSize": -3, "labels": false, "domain": false, "title": null}},
       "y": {"field": "G", "type": "quantitative", "axis": null}
     }},
    {"transform": [{"filter": "datum.s === 'γ-AlH₃, #2'"}],
     "mark": {"type": "point", "shape": "circle", "filled": true, "color": "black", "size": 34, "opacity": 1, "clip": true},
     "encoding": {
       "x": {"field": "E", "type": "quantitative", "axis": null},
       "y": {"field": "G", "type": "quantitative", "axis": null}
     }},
    {"data": {"values": [{"label": "a)"}]},
     "mark": {"type": "text", "fontSize": 22, "font": "Liberation Sans", "align": "center", "baseline": "middle", "color": "black"},
     "encoding": {
       "x": {"datum": 245, "type": "quantitative", "axis": null},
       "y": {"datum": 0.54, "type": "quantitative", "axis": null},
       "text": {"field": "label"}
     }}
  ]
},
{
  "width": 358, "height": 292,
  "data": {"name": "bottom"},
  "resolve": {"axis": {"x": "independent", "y": "independent"}},
  "layer": [
    {"transform": [{"filter": "datum.s === 'α-AlH₃'"}],
     "mark": {"type": "line", "strokeDash": [2, 2], "strokeWidth": 1.3, "clip": true},
     "encoding": {
       "x": {"field": "E", "type": "quantitative", "scale": {"domain": [5, 43.7], "nice": false, "zero": false},
             "axis": {"orient": "bottom", "values": [10, 20, 30, 40], "tickSize": -5, "labelPadding": 14, "domain": true, "title": "Energy transfer", "titleFontStyle": "italic", "titleX": 72, "titleY": 46, "titleAlign": "left", "titleBaseline": "alphabetic", "titleAngle": 0}},
       "y": {"field": "G", "type": "quantitative", "scale": {"domain": [0, 1.2], "nice": false},
             "axis": {"orient": "left", "values": [0, 0.2, 0.4, 0.6, 0.8, 1.0, 1.2], "format": ".1f", "tickSize": -5, "labelPadding": 12, "domain": true, "title": "G(", "titleX": -34, "titleY": 241, "titleAngle": -90, "titleAlign": "left", "titleBaseline": "alphabetic"}},
       "color": {"field": "s", "type": "nominal", "scale": {"domain": ["α-AlH₃", "γ-AlH₃, #1", "γ-AlH₃, #2"], "range": ["black", "#8a8a8a", "black"]},
         "legend": {"orient": "none", "legendX": 12, "legendY": 13, "title": null, "symbolSize": 256, "symbolStrokeWidth": 1.8, "labelOffset": 26, "padding": 9, "rowPadding": 11, "strokeColor": "black", "fillColor": "white", "cornerRadius": 0, "labelFontSize": 15, "labelFont": "Liberation Sans", "labelColor": "black",
           "encode": {"symbols": {"update": {
             "shape": {"signal": "datum.value === 'α-AlH₃' ? 'M-1.125,0L4.125,0' : 'M-1.125,0L1,0M2,0L4.125,0M2,0C2,0.276,1.776,0.5,1.5,0.5C1.224,0.5,1,0.276,1,0C1,-0.276,1.224,-0.5,1.5,-0.5C1.776,-0.5,2,-0.276,2,0Z'"},
             "fill": {"signal": "datum.value === 'γ-AlH₃, #1' ? 'white' : (datum.value === 'γ-AlH₃, #2' ? 'black' : 'transparent')"},
             "stroke": {"signal": "datum.value === 'γ-AlH₃, #1' ? '#8a8a8a' : 'black'"},
             "strokeDash": {"signal": "datum.value === 'α-AlH₃' ? [2, 2] : [1, 0]"},
             "opacity": {"value": 1}
           }}}}}
     }},
    {"transform": [{"filter": "datum.s === 'γ-AlH₃, #1'"}],
     "mark": {"type": "line", "color": "#8a8a8a", "strokeWidth": 2, "clip": true},
     "encoding": {
       "x": {"field": "E", "type": "quantitative",
             "axis": {"orient": "bottom", "values": [15, 25, 35], "tickSize": -3, "labels": false, "domain": false, "title": "(meV)", "titleX": 236, "titleY": 46, "titleAlign": "left", "titleBaseline": "alphabetic", "titleAngle": 0}},
       "y": {"field": "G", "type": "quantitative",
             "axis": {"orient": "left", "values": [0.1, 0.3, 0.5, 0.7, 0.9, 1.1], "tickSize": -3, "labels": false, "domain": false, "title": "E", "titleFontStyle": "italic", "titleX": -34, "titleY": 215.4, "titleAngle": -90, "titleAlign": "left", "titleBaseline": "alphabetic"}}
     }},
    {"transform": [{"filter": "datum.s === 'γ-AlH₃, #1'"}],
     "mark": {"type": "point", "shape": "circle", "filled": true, "fill": "white", "stroke": "#8a8a8a", "strokeWidth": 1, "size": 36, "opacity": 1, "clip": true},
     "encoding": {
       "x": {"field": "E", "type": "quantitative",
             "axis": {"orient": "top", "values": [10, 20, 30, 40], "tickSize": -5, "labels": false, "domain": true, "title": null}},
       "y": {"field": "G", "type": "quantitative",
             "axis": {"orient": "left", "ticks": false, "labels": false, "domain": false, "title": ")\u00a0\u00a0(arb. units)", "titleX": -34, "titleY": 200.1, "titleAngle": -90, "titleAlign": "left", "titleBaseline": "alphabetic"}}
     }},
    {"transform": [{"filter": "datum.s === 'γ-AlH₃, #2'"}],
     "mark": {"type": "line", "color": "black", "strokeWidth": 2.5, "clip": true},
     "encoding": {
       "x": {"field": "E", "type": "quantitative",
             "axis": {"orient": "top", "values": [15, 25, 35], "tickSize": -3, "labels": false, "domain": false, "title": null}},
       "y": {"field": "G", "type": "quantitative", "axis": null}
     }},
    {"transform": [{"filter": "datum.s === 'γ-AlH₃, #2'"}],
     "mark": {"type": "point", "shape": "circle", "filled": true, "color": "black", "size": 30, "opacity": 1, "clip": true},
     "encoding": {
       "x": {"field": "E", "type": "quantitative", "axis": null},
       "y": {"field": "G", "type": "quantitative", "axis": null}
     }},
    {"data": {"values": [{"label": "b)"}]},
     "mark": {"type": "text", "fontSize": 22, "font": "Liberation Sans", "align": "center", "baseline": "middle", "color": "black"},
     "encoding": {
       "x": {"datum": 39.35, "type": "quantitative", "axis": null},
       "y": {"datum": 0.14, "type": "quantitative", "axis": null},
       "text": {"field": "label"}
     }}
  ]
}
]
}
